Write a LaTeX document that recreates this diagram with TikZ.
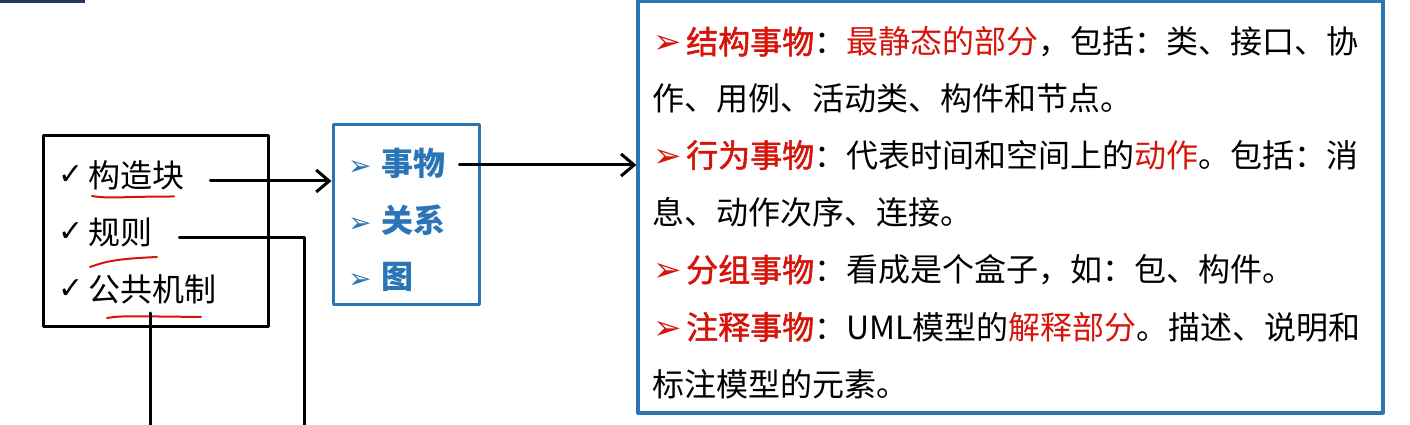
\documentclass[tikz,border=0pt]{standalone}
\usepackage{fontspec}
\setmainfont{Noto Sans CJK SC}
\newfontfamily\symfont{DejaVu Sans}
\newfontfamily\semibold[FakeBold=1.6]{Noto Sans CJK SC}
\usetikzlibrary{arrows.meta}
\definecolor{umlblue}{RGB}{41,117,181}
\definecolor{umlred}{RGB}{215,20,10}
\definecolor{navy}{RGB}{31,56,100}
\newcommand\bul[2][34]{\makebox[34pt][l]{\hspace{1pt}\textcolor{#2}{\symfont\fontsize{#1}{#1}\selectfont ➢}}}
\newcommand\hl[1]{\textcolor{umlred}{\semibold #1}}
\newcommand\rd[1]{\textcolor{umlred}{#1}}
\begin{document}
\begin{tikzpicture}[x=1pt,y=1pt,line join=round,line cap=round,
	font=\fontsize{32}{38}\selectfont,>={Straight Barb[length=13pt,width=22pt]}]
			\useasboundingbox (0,0) rectangle (1410,425);
			\fill[navy] (0,422) rectangle (85,425);
			% three boxes
			\node[draw,line width=3pt,minimum width=225,minimum height=191] (blocks) at (155.5,193.5) {};
			\node[draw=umlblue,line width=3pt,minimum width=146,minimum height=180] (cores) at (406,210) {};
			\node[draw=umlblue,line width=3.2pt,minimum width=745,minimum height=412] (things) at (1010.5,218) {};
			\foreach \n/\y/\t in {kzk/250/构造块,gz/193/规则,ggjz/136/公共机制}{
				\node[anchor=west,inner sep=0] at (58,\y) {\symfont\fontsize{30}{30}\selectfont ✓};
				\node[anchor=west,inner sep=0] (\n) at (88,\y) {\t};
			}
			\foreach \n/\y/\t in {sw/262/事物,gx/205/关系,tu/148/图}
			\node[anchor=west,inner sep=0,text=umlblue,font=\fontsize{32}{38}\selectfont\bfseries] (\n) at (347,\y) {\bul[28]{umlblue}\t};
			\foreach \n/\y/\t in {
				1/383/{\bul{umlred}\hl{结构事物}：\rd{最静态的部分}，包括：类、接口、协},
				2/327/{作、用例、活动类、构件和节点。},
				3/270/{\bul{umlred}\hl{行为事物}：代表时间和空间上的\rd{动作}。包括：消},
				4/213/{息、动作次序、连接。},
				5/155/{\bul{umlred}\hl{分组事物}：看成是个盒子，如：包、构件。},
				6/98/{\bul{umlred}\hl{注释事物}：UML模型的\rd{解释部分}。描述、说明和},
				7/41/{标注模型的元素。}}
			\node[anchor=west,inner sep=0] (l\n) at (652,\y) {\t};
			% red marks under the words
			\draw[umlred,line width=2pt] (92,229) .. controls (110,226) and (120,228.5) .. (174,228.5);
			\draw[umlred,line width=2pt] (90,158) .. controls (105,163) and (112,166) .. (157,168);
			\draw[umlred,line width=2pt] (107,107) .. controls (120,109) .. (201,108);
			% connectors
			\coordinate (a1) at ([xshift=26pt,yshift=-6pt]kzk.east);
			\draw[->,line width=3pt] (a1) -- (a1 -| cores.west);
			\coordinate (a2) at ([xshift=14pt,yshift=-2pt]sw.east);
			\draw[->,line width=3pt] (a2) -- (a2 -| things.west);
			\coordinate (r1) at ([xshift=27pt,yshift=-6pt]gz.east);
			\coordinate (r2) at (304,0);
			\draw[line width=3pt] (r1) -| (r2);
			\coordinate (m1) at ([xshift=-2pt,yshift=-24pt]ggjz.center);
			\draw[line width=3pt] (m1) -- (m1 |- r2);
	\end{tikzpicture}
\end{document}
